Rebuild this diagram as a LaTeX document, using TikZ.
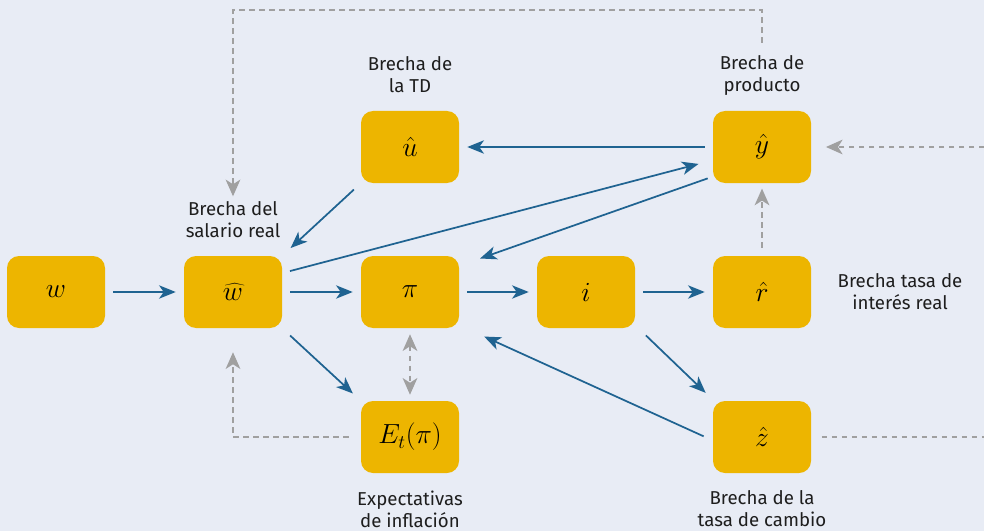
\documentclass[tikz,border=0pt]{standalone}
\usepackage{fontspec}
\setmainfont{Fira Sans}
\usetikzlibrary{arrows.meta}
\definecolor{fondo}{RGB}{232,236,245}
\definecolor{oro}{RGB}{237,181,0}
\definecolor{azul}{RGB}{31,99,145}
\definecolor{gris}{RGB}{160,160,160}
\definecolor{texto}{RGB}{30,30,30}
\tikzset{
  btip/.tip={Stealth[length=12.5pt,width=10pt,inset=3.5pt]},
  gtip/.tip={Stealth[length=12.5pt,width=11pt,inset=3.5pt]},
}

\begin{document}
\begin{tikzpicture}[x=0.75pt,y=-0.75pt,
  caja/.style={fill=oro, rounded corners=9pt, minimum width=73.5pt, minimum height=54pt, inner sep=0pt, font=\fontsize{22}{26}\selectfont},
  rotulo/.style={text=texto, align=center, inner sep=1pt, font=\fontsize{14}{16.5}\selectfont},
  flecha/.style={draw=azul, line width=1.3pt, -btip, shorten <=6pt, shorten >=6pt},
  punteada/.style={draw=gris, line width=1.3pt, dash pattern=on 4pt off 3.5pt}]
	\fill[fondo] (0,0) rectangle (984,531);
	\useasboundingbox (0,0) rectangle (984,531);
	% cajas
	\node[caja] (w) at (56,292) {$w$};
	\node[caja] (wh) at (233,292) {$\widehat{w}$};
	\node[caja] (pi) at (410,292) {$\pi$};
	\node[caja] (i) at (586,292) {$i$};
	\node[caja] (rh) at (762,292) {$\hat{r}$};
	\node[caja] (uh) at (410,147) {$\hat{u}$};
	\node[caja] (yh) at (762,147) {$\hat{y}$};
	\node[caja] (E) at (410,437) {$E_t(\pi)$};
	\node[caja] (zh) at (762,437) {$\hat{z}$};
	% rotulos
	\node[rotulo] (lwh) at (233,220) {Brecha del\\salario real};
	\node[rotulo] (luh) at (410,75) {Brecha de\\la TD};
	\node[rotulo] (lyh) at (762,75) {Brecha de\\producto};
	\node[rotulo] (lrh) at (900,292) {Brecha tasa de\\interés real};
	\node[rotulo] (lE) at (410,509) {Expectativas\\de inflación};
	\node[rotulo] (lzh) at (762,509) {Brecha de la\\tasa de cambio};
	% flechas
	\draw[flecha] (w) -- (wh);
	\draw[flecha] (wh) -- (pi);
	\draw[flecha] (pi) -- (i);
	\draw[flecha] (i) -- (rh);
	\draw[flecha] (yh) -- (uh);
	\draw[flecha, shorten <=7pt, shorten >=8.5pt] (uh.south west) -- (wh.north east);
	\draw[flecha, shorten >=11pt] (wh.21) -- (yh.195);
	\draw[flecha, shorten <=4pt, shorten >=16.5pt] (yh.211) -- (pi.28);
	\draw[flecha, shorten <=11pt, shorten >=8.5pt] (i.-34) -- (zh.143);
	\draw[flecha, shorten <=8pt, shorten >=8pt] (wh.south east) -- (E.north west);
	\draw[flecha, shorten <=7.5pt, shorten >=20.5pt] (zh.184) -- (pi.-34);
	% punteadas
	\coordinate (arriba) at (0,10);
	\coordinate (derA) at (984,437);
	\coordinate (derB) at (984,147);
	\draw[punteada, gtip-gtip, shorten <=4.5pt, shorten >=4.5pt] (pi) -- (E);
	\draw[punteada, -gtip, shorten <=6pt, shorten >=4pt] (rh) -- (yh);
	\draw[punteada, -gtip, shorten <=9pt, shorten >=18pt] (E.west) -| (wh.south);
	\draw[punteada, -gtip, shorten <=8pt, shorten >=3pt] (lyh.north) -- (lyh.north |- arriba) -| (lwh.north);
	\draw[punteada, shorten <=8pt] (zh) -- (derA);
	\draw[punteada, -gtip, shorten >=11pt] (derB) -- (yh);
\end{tikzpicture}
\end{document}
